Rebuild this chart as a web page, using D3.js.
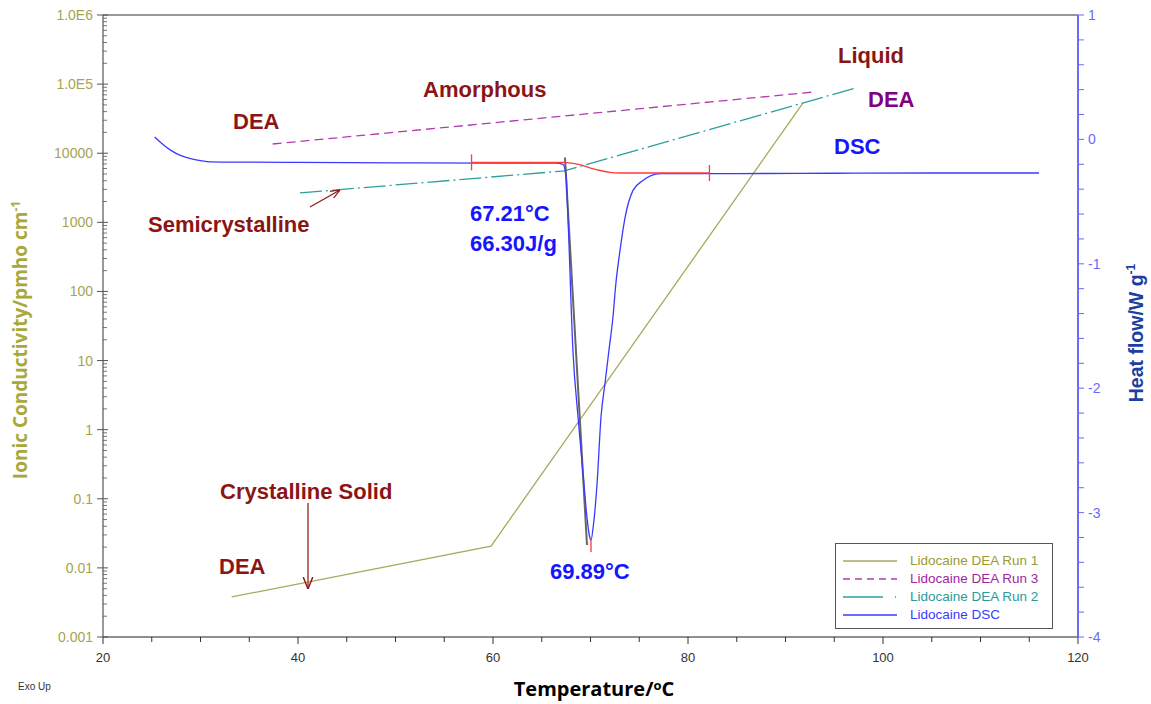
<!DOCTYPE html>
<html><head><meta charset="utf-8">
<script src="https://cdn.jsdelivr.net/npm/d3@7"></script>
<style>body{margin:0;background:#fff;font-family:"Liberation Sans",Arial,sans-serif}</style>
</head><body><svg id="c" width="1151" height="704"></svg>
<script>
// ---- data ----
const run1T = [33.2, 59.8, 91.8];
const run1C = [0.0038, 0.0207, 53500];
const run3T = [37.4, 93.0];
const run3C = [13600, 77100];
const run2T = [40.2, 67.3, 97.2];
const run2C = [2660, 5550, 88000];
const dscT = [25.3,26,27,28,29,30,31,35,40,50,60,65,66.5,67.18,67.49,67.69,68.2,68.72,69.33,69.64,69.9,70.05,70.3,70.67,71.08,71.49,71.9,72.3,72.6,73.03,73.54,74.36,75.38,77.13,85,95,105,116];
const dscH = [0.02,-0.03,-0.09,-0.13,-0.155,-0.17,-0.18,-0.183,-0.185,-0.188,-0.19,-0.19,-0.19,-0.2,-0.29,-0.63,-1.7,-2.23,-2.77,-3.04,-3.19,-3.22,-3.1,-2.77,-2.23,-1.96,-1.69,-1.43,-1.16,-0.89,-0.63,-0.41,-0.33,-0.275,-0.275,-0.272,-0.27,-0.27];
const baseT = [57.8, 67.2, 68.0, 69.0, 70.0, 71.0, 72.0, 73.0, 82.2];
const baseH = [-0.185, -0.185, -0.19, -0.205, -0.23, -0.25, -0.265, -0.27, -0.27];
const tangentT = [67.38, 69.64];
const tangentH = [-0.145, -3.26];
const xTicks = [20,40,60,80,100,120];
const yLTicks = [1e6,1e5,1e4,1e3,100,10,1,0.1,0.01,0.001];
const yLLabels = ["1.0E6","1.0E5","10000","1000","100","10","1","0.1","0.01","0.001"];
const yRTicks = [1,0,-1,-2,-3,-4];
const legendNames = ["Lidocaine DEA Run 1","Lidocaine DEA Run 3","Lidocaine DEA Run 2","Lidocaine DSC"];

// ---- setup ----
const svg = d3.select("#c");
const L=103,R=1078,T=15,B=637;
const x = d3.scaleLinear().domain([20,120]).range([L,R]);
const yL = d3.scaleLog().domain([0.001,1e6]).range([B,T]);
const yR = d3.scaleLinear().domain([-4,1]).range([B,T]);
const cOlive="#a9a85c", cPurple="#b03cb0", cTeal="#2e9e9e", cBlue="#3a3aff", cRed="#8b1515";

// frame top
svg.append("line").attr("x1",L).attr("x2",R).attr("y1",T).attr("y2",T).attr("stroke","#333").attr("stroke-width",1);

// bottom axis
const minorX = d3.range(20,121,5);
svg.append("g").selectAll("line").data(minorX).join("line")
  .attr("x1",d=>x(d)).attr("x2",d=>x(d)).attr("y1",B).attr("y2",d=>B+(d%20===0?7:5)).attr("stroke","#333");
svg.append("line").attr("x1",L).attr("x2",R).attr("y1",B).attr("y2",B).attr("stroke","#222").attr("stroke-width",1.2);
svg.append("g").selectAll("text").data(xTicks).join("text")
  .attr("x",d=>x(d)).attr("y",B+25).attr("text-anchor","middle").attr("font-size",13).attr("fill","#333").text(d=>d);

// left axis
const minorL=[];
for(let e=-3;e<6;e++) for(let m=2;m<10;m++) minorL.push(m*Math.pow(10,e));
svg.append("g").selectAll("line").data(minorL).join("line")
  .attr("x1",L).attr("x2",L+4).attr("y1",d=>yL(d)).attr("y2",d=>yL(d)).attr("stroke","#777");
svg.append("g").selectAll("line").data(yLTicks).join("line")
  .attr("x1",L-6).attr("x2",L+5).attr("y1",d=>yL(d)).attr("y2",d=>yL(d)).attr("stroke","#555");
svg.append("line").attr("x1",L).attr("x2",L).attr("y1",T).attr("y2",B).attr("stroke","#555").attr("stroke-width",1.2);
svg.append("g").selectAll("text").data(yLTicks).join("text")
  .attr("x",L-10).attr("y",d=>yL(d)+5).attr("text-anchor","end").attr("font-size",14).attr("fill","#a5a450")
  .text((d,i)=>yLLabels[i]);

// right axis
const minorR=d3.range(-4,1.001,0.2);
svg.append("g").selectAll("line").data(minorR).join("line")
  .attr("x1",R).attr("x2",R+6).attr("y1",d=>yR(d)).attr("y2",d=>yR(d)).attr("stroke","#6a6aff");
svg.append("line").attr("x1",R).attr("x2",R).attr("y1",T).attr("y2",B).attr("stroke","#6a6aff").attr("stroke-width",2);
svg.append("g").selectAll("text").data(yRTicks).join("text")
  .attr("x",R+10).attr("y",d=>yR(d)+5).attr("text-anchor","start").attr("font-size",14).attr("fill","#6a6aff").text(d=>d);

// axis titles
svg.append("text").attr("transform","translate(27,340) rotate(-90)").attr("text-anchor","middle")
  .attr("font-family","'Open Sans',sans-serif").attr("font-size",19).attr("font-weight","bold").attr("fill","#a8a83c")
  .html('Ionic Conductivity/pmho cm<tspan dy="-7" font-size="12">-1</tspan>');
svg.append("text").attr("transform","translate(1143,333) rotate(-90)").attr("text-anchor","middle")
  .attr("font-size",19.5).attr("font-weight","bold").attr("fill","#1c3fa0")
  .html('Heat flow/W g<tspan dy="-8" font-size="12">-1</tspan>');
svg.append("text").attr("x",594).attr("y",696).attr("text-anchor","middle").attr("font-family","'Open Sans',sans-serif").attr("font-size",20).attr("font-weight","bold").attr("fill","#000")
  .html('Temperature/<tspan dy="-6" font-size="13">o</tspan><tspan dy="6">C</tspan>');
svg.append("text").attr("x",18).attr("y",690).attr("font-size",10).attr("fill","#333").text("Exo Up");

// series
const lineL = (Ts,Cs)=>d3.line().x(d=>x(Ts[d])).y(d=>yL(Cs[d]))(d3.range(Ts.length));
const lineR = (Ts,Hs,curve)=>d3.line().curve(curve||d3.curveLinear).x(d=>x(Ts[d])).y(d=>yR(Hs[d]))(d3.range(Ts.length));

svg.append("path").attr("d",lineL(run1T,run1C)).attr("fill","none").attr("stroke",cOlive).attr("stroke-width",1.3);
svg.append("path").attr("d",lineL(run3T,run3C)).attr("fill","none").attr("stroke",cPurple).attr("stroke-width",1.3).attr("stroke-dasharray","9,5");
svg.append("path").attr("d",lineL(run2T,run2C)).attr("fill","none").attr("stroke",cTeal).attr("stroke-width",1.3).attr("stroke-dasharray","22,4,2,4");
svg.append("path").attr("d",lineR(tangentT,tangentH)).attr("fill","none").attr("stroke","#666").attr("stroke-width",2);
svg.append("path").attr("d",lineR(dscT,dscH,d3.curveMonotoneX)).attr("fill","none").attr("stroke",cBlue).attr("stroke-width",1.3);
svg.append("path").attr("d",lineR(baseT,baseH,d3.curveMonotoneX)).attr("fill","none").attr("stroke","#ff3b3b").attr("stroke-width",1.3);
// red limit ticks
[[baseT[0],baseH[0]],[baseT[baseT.length-1],baseH[baseH.length-1]]].forEach(p=>{
  svg.append("line").attr("x1",x(p[0])).attr("x2",x(p[0])).attr("y1",yR(p[1])-8).attr("y2",yR(p[1])+8).attr("stroke","#ff3b3b").attr("stroke-width",1.3);
});
svg.append("line").attr("x1",x(70.05)).attr("x2",x(70.05)).attr("y1",yR(-3.22)).attr("y2",yR(-3.22)+12).attr("stroke","#ff5050").attr("stroke-width",1.5);

// annotations
const ann=(t,xp,yp,col,fs)=>svg.append("text").attr("x",xp).attr("y",yp).attr("font-size",fs||22).attr("font-weight","bold").attr("fill",col).text(t);
ann("Liquid",838,63,cRed);
ann("DEA",868,107,"#800080");
ann("DSC",834,154,"#1515ff");
ann("Amorphous",423,97,cRed);
ann("DEA",233,129,cRed);
ann("Semicrystalline",148,232,cRed);
ann("67.21°C",470,221,"#1515ff");
ann("66.30J/g",470,251,"#1515ff");
ann("69.89°C",550,579,"#1515ff");
ann("Crystalline Solid",220,499,cRed);
ann("DEA",219,574,cRed);

// arrows
svg.append("defs").append("marker").attr("id","ah").attr("viewBox","0 0 10 10").attr("refX",10).attr("refY",5)
  .attr("markerWidth",8).attr("markerHeight",8).attr("orient","auto")
  .append("path").attr("d","M0,1 L10,5 L0,9").attr("fill","none").attr("stroke",cRed).attr("stroke-width",1.2);
svg.append("line").attr("x1",310).attr("y1",207).attr("x2",340).attr("y2",190).attr("stroke",cRed).attr("stroke-width",1.2).attr("marker-end","url(#ah)");
svg.append("line").attr("x1",308).attr("y1",503).attr("x2",308).attr("y2",589).attr("stroke","#a04040").attr("stroke-width",1.5).attr("marker-end","url(#ah)");

// legend
const lg=svg.append("g");
lg.append("rect").attr("x",835.5).attr("y",543.5).attr("width",217).attr("height",85).attr("fill","#fff").attr("stroke","#555");
const lgCols=[cOlive,cPurple,cTeal,cBlue], lgDash=[null,"7,5","40,12,1,3",null], lgText=["#9c9a35","#a0289e","#2a9a9a","#3a3aff"];
legendNames.forEach((n,i)=>{
  const yy=561+i*18;
  lg.append("line").attr("x1",843).attr("x2",897).attr("y1",yy).attr("y2",yy).attr("stroke",lgCols[i]).attr("stroke-width",1.3).attr("stroke-dasharray",lgDash[i]);
  lg.append("text").attr("x",910).attr("y",yy+4).attr("font-size",13.5).attr("fill",lgText[i]).text(n);
});
</script></body></html>
